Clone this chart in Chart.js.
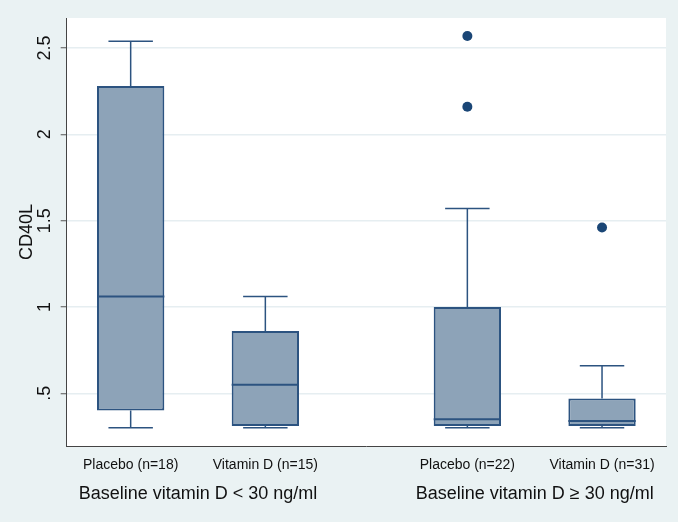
<!DOCTYPE html>
<html>
<head>
<meta charset="utf-8">
<script src="https://cdn.jsdelivr.net/npm/chart.js@4.4.1/dist/chart.umd.min.js"></script>
<style>
  html, body { margin: 0; padding: 0; background: #eaf2f3; }
  canvas { display: block; }
</style>
</head>
<body>
<canvas id="boxChart" width="678" height="522"></canvas>
<script>
// Datos
const groupLabels = ['Baseline vitamin D < 30 ng/ml', 'Baseline vitamin D \u2265 30 ng/ml'];
const groupPositions = [1.5, 4];
const boxLabels = ['Placebo (n=18)', 'Vitamin D (n=15)', 'Placebo (n=22)', 'Vitamin D (n=31)'];
const boxPositions = [1, 2, 3.5, 4.5];
const whiskerLow = [0.30, 0.30, 0.30, 0.30];
const q1 = [0.40, 0.31, 0.31, 0.31];
const medians = [1.06, 0.55, 0.35, 0.34];
const q3 = [2.28, 0.86, 1.00, 0.47];
const whiskerHigh = [2.54, 1.06, 1.57, 0.66];
const outlierPositions = [3.5, 3.5, 4.5];
const outlierValues = [2.57, 2.16, 1.46];
const yTicks = [0.5, 1, 1.5, 2, 2.5];
const yTickLabels = ['.5', '1', '1.5', '2', '2.5'];

const fontFamily = "'Liberation Sans', Arial, sans-serif";
const edgeColor = '#2c5380';
const fillColor = '#8da3b8';
const dotColor = '#1a4676';

// Fondo blanco del área del gráfico
const plotBackground = {
  id: 'plotBackground',
  beforeDraw(chart) {
    const { ctx, chartArea: a } = chart;
    ctx.save();
    ctx.fillStyle = '#ffffff';
    ctx.fillRect(a.left, a.top, a.right - a.left, a.bottom - a.top);
    ctx.restore();
  }
};

// Bigotes y medianas
const whiskers = {
  id: 'whiskers',
  afterDatasetsDraw(chart) {
    const { ctx, scales: { y } } = chart;
    const bars = chart.getDatasetMeta(0).data;
    ctx.save();
    ctx.strokeStyle = edgeColor;
    bars.forEach((bar, i) => {
      const half = bar.width * 0.33;
      const yHi = y.getPixelForValue(whiskerHigh[i]);
      const yLo = y.getPixelForValue(whiskerLow[i]);
      const yQ1 = y.getPixelForValue(q1[i]);
      const yQ3 = y.getPixelForValue(q3[i]);
      const yMed = y.getPixelForValue(medians[i]);
      ctx.lineWidth = 1.5;
      ctx.beginPath();
      ctx.moveTo(bar.x, yQ3); ctx.lineTo(bar.x, yHi);
      ctx.moveTo(bar.x - half, yHi); ctx.lineTo(bar.x + half, yHi);
      ctx.moveTo(bar.x, yQ1); ctx.lineTo(bar.x, yLo);
      ctx.moveTo(bar.x - half, yLo); ctx.lineTo(bar.x + half, yLo);
      ctx.stroke();
      ctx.lineWidth = 2;
      ctx.beginPath();
      ctx.moveTo(bar.x - bar.width / 2, yMed);
      ctx.lineTo(bar.x + bar.width / 2, yMed);
      ctx.stroke();
    });
    ctx.restore();
  }
};

const ctx = document.getElementById('boxChart').getContext('2d');
new Chart(ctx, {
  type: 'bar',
  data: {
    datasets: [
      {
        type: 'bar',
        data: boxPositions.map((x, i) => ({ x: x, y: [q1[i], q3[i]] })),
        backgroundColor: fillColor,
        borderColor: edgeColor,
        borderWidth: 2,
        borderSkipped: false,
        barPercentage: 0.5,
        categoryPercentage: 1
      },
      {
        type: 'scatter',
        data: outlierPositions.map((x, i) => ({ x: x, y: outlierValues[i] })),
        backgroundColor: dotColor,
        borderColor: dotColor,
        pointRadius: 5,
        borderWidth: 0
      }
    ]
  },
  options: {
    responsive: false,
    animation: false,
    layout: { padding: { top: 18, right: 12, bottom: 10, left: 0 } },
    plugins: { legend: { display: false }, tooltip: { enabled: false } },
    scales: {
      x: {
        type: 'linear',
        position: 'bottom',
        min: 0.525,
        max: 4.975,
        offset: false,
        afterBuildTicks: s => { s.ticks = boxPositions.map(v => ({ value: v })); },
        afterFit: s => { s.height = 26; },
        grid: { display: false, offset: false },
        border: { display: true, color: '#444444', width: 1 },
        ticks: {
          autoSkip: false,
          maxRotation: 0,
          padding: 3,
          color: '#111111',
          font: { family: fontFamily, size: 14 },
          callback: (v, i) => boxLabels[i]
        }
      },
      x2: {
        type: 'linear',
        position: 'bottom',
        min: 0.525,
        max: 4.975,
        offset: false,
        afterBuildTicks: s => { s.ticks = groupPositions.map(v => ({ value: v })); },
        afterFit: s => { s.height = 40; },
        grid: { display: false, offset: false },
        border: { display: false },
        ticks: {
          autoSkip: false,
          maxRotation: 0,
          padding: 3,
          color: '#111111',
          font: { family: fontFamily, size: 18 },
          callback: (v, i) => groupLabels[i]
        }
      },
      y: {
        type: 'linear',
        min: 0.1945,
        max: 2.674,
        afterBuildTicks: s => { s.ticks = yTicks.map(v => ({ value: v })); },
        afterFit: s => { s.width = 66.7; },
        grid: {
          color: '#e6eef1',
          lineWidth: 1.5,
          drawTicks: true,
          tickLength: 6,
          tickColor: '#555555',
          tickWidth: 1
        },
        border: { display: true, color: '#444444', width: 1 },
        ticks: {
          minRotation: 90,
          maxRotation: 90,
          crossAlign: 'center',
          padding: 3,
          color: '#111111',
          font: { family: fontFamily, size: 18 },
          callback: (v, i) => yTickLabels[i]
        },
        title: {
          display: true,
          text: 'CD40L',
          color: '#111111',
          padding: { top: 16, bottom: 0 },
          font: { family: fontFamily, size: 18 }
        }
      }
    }
  },
  plugins: [plotBackground, whiskers]
});
</script>
</body>
</html>
